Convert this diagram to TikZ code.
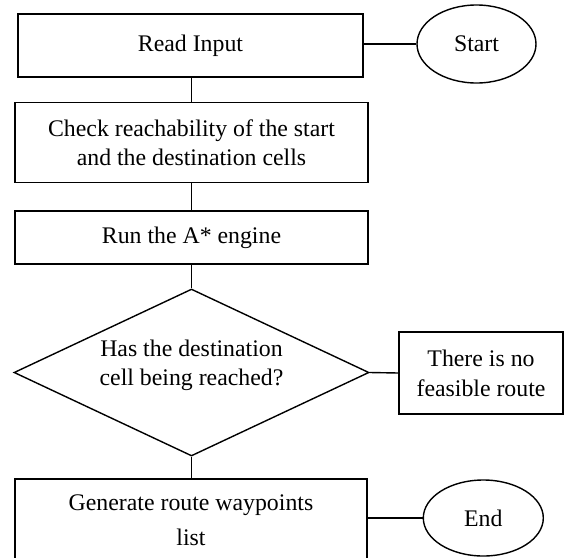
\documentclass[tikz,border=0pt]{standalone}
\usepackage{fontspec}
\setmainfont{Liberation Serif}
\usetikzlibrary{shapes.geometric}
\begin{document}
\begin{tikzpicture}[x=1pt,y=-1pt,line width=1.4pt,
  txt/.style={align=center,inner sep=0pt,font=\fontsize{23.8}{29}\selectfont},
  box/.style={txt,draw,rectangle},
  oval/.style={txt,draw,ellipse},
  decision/.style={draw,diamond,inner sep=0pt}]
\useasboundingbox (0,0) rectangle (564,557);
\node[box,minimum width=345pt,minimum height=63pt] (read) at (190.5,45.5) {Read Input};
\node[oval,minimum width=119pt,minimum height=78pt] (start) at (476.5,44) {Start};
\node[box,minimum width=353pt,minimum height=80pt] (check) at (191.5,142.5) {Check reachability of the start\\and the destination cells};
\node[box,minimum width=353pt,minimum height=53pt] (run) at (191.5,237.5) {Run the A* engine};
\node[decision,minimum width=355pt,minimum height=167pt] (dec) at (191.5,372.5) {};
\node[txt] (dectext) at (191.5,365) {Has the destination\\cell being reached?};
\node[box,minimum width=164pt,minimum height=82pt] (noroute) at (481,373) {There is no\\[1pt]feasible route};
\node[box,minimum width=352pt,minimum height=83pt] (gen) at (191,520.5) {Generate route waypoints\\[6pt]list};
\node[oval,minimum width=120pt,minimum height=76pt] (end) at (483.3,518) {End};
\draw (check.north) -- (check.north |- read.south);
\draw (run.north) -- (run.north |- check.south);
\draw (dec.north) -- (dec.north |- run.south);
\draw (dec.south) -- (dec.south |- gen.north);
\draw (start.west) -- (start.west -| read.east);
\draw (dec.east) -- (noroute.west);
\draw (end.west) -- (end.west -| gen.east);
\end{tikzpicture}
\end{document}
